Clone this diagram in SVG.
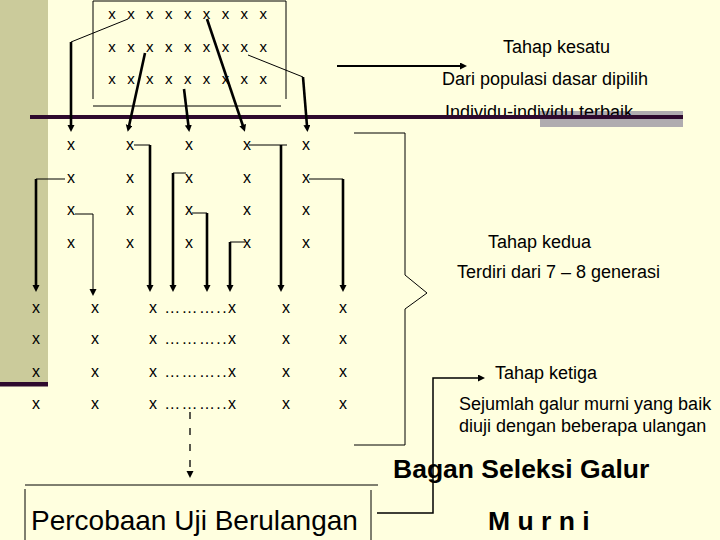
<svg xmlns="http://www.w3.org/2000/svg" width="720" height="540" viewBox="0 0 720 540">
<defs>
<style>
.x{font-family:"Liberation Sans",Arial,sans-serif;font-size:16px;fill:#000;text-anchor:middle}
.xs{font-family:"Liberation Sans",Arial,sans-serif;font-size:15px;fill:#000}
.lbl{font-family:"Liberation Sans",Arial,sans-serif;font-size:18px;fill:#000}
.big{font-family:"Liberation Sans",Arial,sans-serif;font-size:26.5px;font-weight:bold;fill:#000}
.thin{fill:none;stroke:#000;stroke-width:1}
.thick{fill:none;stroke:#000;stroke-width:2.6}
.arr{marker-end:url(#ah)}
</style>
<marker id="ah" markerWidth="8" markerHeight="8" refX="1" refY="3.5" orient="auto" markerUnits="userSpaceOnUse"><path d="M0,0 L7,3.5 L0,7 z" fill="#000"/></marker>
</defs>
<rect x="0" y="0" width="720" height="540" fill="#FFFFDF"/>
<rect x="0" y="0" width="48" height="384" fill="#CBCB9B"/>
<rect x="0" y="382" width="48" height="4.5" fill="#2E0A2E"/>
<rect x="540" y="111" width="143" height="16" fill="#B0ACB0"/>

<g id="stage1">
<path class="thin" d="M93,99 V1 H286 V99 M93,106 H281"/>
<text class="xs" y="19"><tspan x="108.3 127.2 146.1 165 183.9 202.8 221.7 240.6 259.5">xxxxxxxxx</tspan></text>
<text class="xs" y="52"><tspan x="108.3 127.2 146.1 165 183.9 202.8 221.7 240.6 259.5">xxxxxxxxx</tspan></text>
<text class="xs" y="84"><tspan x="108.3 127.2 146.1 165 183.9 202.8 221.7 240.6 259.5">xxxxxxxxx</tspan></text>
</g>

<g id="label1">
<text class="lbl" x="503" y="53">Tahap kesatu</text>
<text class="lbl" x="442" y="85">Dari populasi dasar dipilih</text>
<text class="lbl" x="445" y="118">Individu-individu terbaik</text>
</g>
<rect x="30" y="115" width="653" height="4" fill="#2E0A2E"/>

<g id="stage2">
<text class="x" y="150"><tspan x="71">x</tspan><tspan x="130">x</tspan><tspan x="189">x</tspan><tspan x="247">x</tspan><tspan x="306">x</tspan></text>
<text class="x" y="183"><tspan x="71">x</tspan><tspan x="130">x</tspan><tspan x="189">x</tspan><tspan x="247">x</tspan><tspan x="306">x</tspan></text>
<text class="x" y="215"><tspan x="71">x</tspan><tspan x="130">x</tspan><tspan x="189">x</tspan><tspan x="247">x</tspan><tspan x="306">x</tspan></text>
<text class="x" y="248"><tspan x="71">x</tspan><tspan x="130">x</tspan><tspan x="189">x</tspan><tspan x="247">x</tspan><tspan x="306">x</tspan></text>
</g>

<g id="label2">
<text class="lbl" x="488" y="248">Tahap kedua</text>
<text class="lbl" x="457" y="278">Terdiri dari 7 – 8 generasi</text>
</g>

<g id="stage3">
<text class="x" y="313"><tspan x="36">x</tspan><tspan x="95">x</tspan><tspan x="286">x</tspan><tspan x="343">x</tspan></text>
<text class="x" y="344"><tspan x="36">x</tspan><tspan x="95">x</tspan><tspan x="286">x</tspan><tspan x="343">x</tspan></text>
<text class="x" y="377"><tspan x="36">x</tspan><tspan x="95">x</tspan><tspan x="286">x</tspan><tspan x="343">x</tspan></text>
<text class="x" y="409"><tspan x="36">x</tspan><tspan x="95">x</tspan><tspan x="286">x</tspan><tspan x="343">x</tspan></text>
<text class="x" style="text-anchor:start" x="149" y="313" textLength="87" lengthAdjust="spacing">x ………..x</text>
<text class="x" style="text-anchor:start" x="149" y="344" textLength="87" lengthAdjust="spacing">x ………..x</text>
<text class="x" style="text-anchor:start" x="149" y="377" textLength="87" lengthAdjust="spacing">x ………..x</text>
<text class="x" style="text-anchor:start" x="149" y="409" textLength="87" lengthAdjust="spacing">x ………..x</text>
</g>

<g id="label3">
<text class="lbl" x="495" y="379">Tahap ketiga</text>
<text class="lbl" x="459" y="410">Sejumlah galur murni yang baik</text>
<text class="lbl" x="459" y="432">diuji dengan beberapa ulangan</text>
</g>

<g id="title">
<text class="big" x="393" y="478">Bagan Seleksi Galur</text>
<text class="big" x="488" y="530">M u r n i</text>
</g>

<g id="final">
<path class="thin" d="M25,485 H378 M25,489 V540 M371,490 V540"/>
<text class="lbl" style="font-size:28px" x="31" y="530">Percobaan Uji Berulangan</text>
</g>

<g id="connectors">
<path class="thin" d="M128,19 L71,42"/>
<path class="thick arr" d="M71,42 V126"/>
<path class="thick arr" d="M145,53 L129,126"/>
<path class="thick arr" d="M184,89 L188.5,126"/>
<path class="thick arr" d="M207,19 L243,126"/>
<path class="thin" d="M248,55 L303,77"/>
<path class="thick arr" d="M303,77 L307,126"/>
<path class="thin" d="M65,179 H36"/>
<path class="thick arr" d="M36,179 V286"/>
<path class="thin arr" d="M75,214 H93 V290"/>
<path class="thin" d="M134,145 H150"/>
<path class="thick arr" d="M150,145 V286"/>
<path class="thin" d="M186,173 H173"/>
<path class="thick arr" d="M173,173 V286"/>
<path class="thin" d="M192,213 H207"/>
<path class="thick arr" d="M207,213 V286"/>
<path class="thin" d="M245,242 H230"/>
<path class="thick arr" d="M230,242 V286"/>
<path class="thin" d="M249,145 H287"/>
<path class="thick arr" d="M281,145 V286"/>
<path class="thin" d="M309,179 H343"/>
<path class="thick arr" d="M343,179 V286"/>
<path class="arr" fill="none" stroke="#000" stroke-width="2" d="M337,66 H461"/>
<path class="thin" d="M354,133 H405 V275 L427,293 L405,309 V445 H354"/>
<path class="arr" fill="none" stroke="#000" stroke-width="1.5" d="M377,513 H433 V378 H479"/>
<path class="arr" fill="none" stroke="#000" stroke-width="1.3" stroke-dasharray="7 9" d="M190,412 V472"/>
</g>
</svg>
